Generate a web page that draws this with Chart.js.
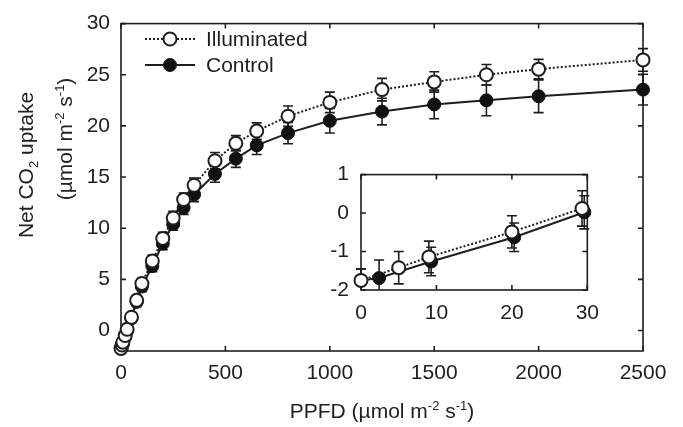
<!DOCTYPE html>
<html lang="en">
<head>
  <meta charset="UTF-8">
  <title>Net CO2 uptake vs PPFD</title>
  <script src="https://cdn.jsdelivr.net/npm/chart.js"></script>
  <style>
    body {
      margin: 0;
      background: #fff;
      font-family: "Liberation Sans", Arial, sans-serif;
      color: #222;
    }
    #wrap { position: relative; width: 683px; height: 427px; }
    #mainChart { position: absolute; left: 0; top: 0; }
    #insetChart { position: absolute; left: 310px; top: 150px; }
    .title {
      position: absolute;
      font-size: 21px;
      white-space: nowrap;
      line-height: 1;
      transform: translate(-50%, -50%);
    }
    .title.rot { transform: translate(-50%, -50%) rotate(-90deg); }
    sup, sub { font-size: 13px; line-height: 0; }
  </style>
</head>
<body>
  <div id="wrap">
    <canvas id="mainChart" width="683" height="427"></canvas>
    <canvas id="insetChart" width="300" height="180"></canvas>
    <div class="title rot" style="left:25px; top:165px;">Net CO<sub>2</sub> uptake</div>
    <div class="title rot" style="left:64px; top:139px;">(µmol m<sup>-2</sup> s<sup>-1</sup>)</div>
    <div class="title" style="left:382px; top:410px;">PPFD (µmol m<sup>-2</sup> s<sup>-1</sup>)</div>
  </div>

  <script>
    // values
    const illumPPFD   = [0, 5, 9, 20, 29.3, 50, 75, 100, 150, 200, 250, 300, 350, 450, 550, 650, 800, 1000, 1250, 1500, 1750, 2000, 2500];
    const illumUptake = [-1.75, -1.42, -1.14, -0.49, 0.12, 1.3, 2.95, 4.6, 6.8, 9.0, 11.0, 12.8, 14.2, 16.6, 18.3, 19.5, 20.95, 22.3, 23.55, 24.3, 25.0, 25.55, 26.45];
    const illumErr    = [0.3, 0.42, 0.41, 0.42, 0.46, 0.4, 0.45, 0.5, 0.55, 0.6, 0.65, 0.65, 0.7, 0.8, 0.75, 0.8, 1.0, 1.0, 1.1, 1.0, 1.0, 0.95, 1.1];

    const ctrlPPFD    = [0, 2.4, 9.3, 20.3, 29.6, 50, 75, 100, 150, 200, 250, 300, 350, 450, 550, 650, 800, 1000, 1250, 1500, 1750, 2000, 2500];
    const ctrlUptake  = [-1.75, -1.69, -1.26, -0.63, 0.02, 1.2, 2.8, 4.3, 6.3, 8.5, 10.4, 12.0, 13.3, 15.3, 16.8, 18.1, 19.3, 20.5, 21.4, 22.1, 22.5, 22.9, 23.55];
    const ctrlErr     = [0.3, 0.47, 0.37, 0.37, 0.43, 0.4, 0.45, 0.5, 0.55, 0.6, 0.6, 0.65, 0.7, 0.8, 0.85, 0.9, 1.05, 1.2, 1.3, 1.4, 1.5, 1.6, 1.5];

    const seriesNames = ['Illuminated', 'Control'];

    const mainXTicks  = [0, 500, 1000, 1500, 2000, 2500];
    const mainYTicks  = [0, 5, 10, 15, 20, 25, 30];
    const insetXTicks = [0, 10, 20, 30];
    const insetYTicks = [-2, -1, 0, 1];
    const insetCount  = 5; // the low-light points shown in the inset

    const ink = '#1e1e1e';
    const tickFont = { family: '"Liberation Sans", Arial, sans-serif', size: 21 };

    function points(xs, ys, n) {
      return xs.slice(0, n).map((x, i) => ({ x: x, y: ys[i] }));
    }

    function makeDatasets(n) {
      return [
        {
          label: seriesNames[0],
          data: points(illumPPFD, illumUptake, n),
          errors: illumErr.slice(0, n),
          borderColor: ink,
          borderWidth: 2,
          borderDash: [2, 2],
          pointRadius: 6.5,
          pointBorderWidth: 2,
          pointBackgroundColor: '#fff',
          pointBorderColor: ink,
          tension: 0,
          clip: false,
          order: 0
        },
        {
          label: seriesNames[1],
          data: points(ctrlPPFD, ctrlUptake, n),
          errors: ctrlErr.slice(0, n),
          borderColor: ink,
          borderWidth: 2,
          pointRadius: 6.5,
          pointBorderWidth: 1,
          pointBackgroundColor: '#111',
          pointBorderColor: '#111',
          tension: 0,
          clip: false,
          order: 1
        }
      ];
    }

    // box round the plot plus inward ticks on all four sides
    const frameTicks = {
      id: 'frameTicks',
      beforeDatasetsDraw(chart) {
        const { ctx, chartArea: a, scales: { x, y } } = chart;
        const len = 5;
        ctx.save();
        ctx.strokeStyle = ink;
        ctx.lineWidth = 1.6;
        ctx.strokeRect(a.left, a.top, a.right - a.left, a.bottom - a.top);
        ctx.beginPath();
        x.ticks.forEach(t => {
          const px = x.getPixelForValue(t.value);
          ctx.moveTo(px, a.bottom); ctx.lineTo(px, a.bottom - len);
          ctx.moveTo(px, a.top); ctx.lineTo(px, a.top + len);
        });
        y.ticks.forEach(t => {
          const py = y.getPixelForValue(t.value);
          ctx.moveTo(a.left, py); ctx.lineTo(a.left + len, py);
          ctx.moveTo(a.right, py); ctx.lineTo(a.right - len, py);
        });
        ctx.stroke();
        ctx.restore();
      }
    };

    // vertical error bars with caps, drawn under the markers
    const errorBars = {
      id: 'errorBars',
      beforeDatasetsDraw(chart) {
        const { ctx, chartArea: a, scales: { y } } = chart;
        ctx.save();
        ctx.beginPath();
        ctx.rect(a.left - 10, a.top, a.right - a.left + 20, a.bottom - a.top);
        ctx.clip();
        ctx.strokeStyle = ink;
        ctx.lineWidth = 1.6;
        chart.data.datasets.forEach((ds, di) => {
          const meta = chart.getDatasetMeta(di);
          ds.data.forEach((p, i) => {
            const px = meta.data[i].x;
            const top = y.getPixelForValue(p.y + ds.errors[i]);
            const bot = y.getPixelForValue(p.y - ds.errors[i]);
            ctx.beginPath();
            ctx.moveTo(px, top); ctx.lineTo(px, bot);
            ctx.moveTo(px - 5, top); ctx.lineTo(px + 5, top);
            ctx.moveTo(px - 5, bot); ctx.lineTo(px + 5, bot);
            ctx.stroke();
          });
        });
        ctx.restore();
      }
    };

    // legend: line sample with marker, then the name
    const lineLegend = {
      id: 'lineLegend',
      afterDraw(chart) {
        const ctx = chart.ctx;
        const rows = [39, 65];
        ctx.save();
        chart.data.datasets.forEach((ds, i) => {
          const yy = rows[i];
          ctx.strokeStyle = ink;
          ctx.lineWidth = 2;
          ctx.setLineDash(ds.borderDash || []);
          ctx.beginPath();
          ctx.moveTo(145, yy); ctx.lineTo(195, yy);
          ctx.stroke();
          ctx.setLineDash([]);
          ctx.beginPath();
          ctx.arc(170, yy, 6.5, 0, Math.PI * 2);
          ctx.fillStyle = ds.pointBackgroundColor;
          ctx.fill();
          ctx.lineWidth = ds.pointBorderWidth;
          ctx.strokeStyle = ds.pointBorderColor;
          ctx.stroke();
          ctx.fillStyle = ink;
          ctx.font = '21px "Liberation Sans", Arial, sans-serif';
          ctx.textBaseline = 'middle';
          ctx.fillText(ds.label, 206, yy + 1);
        });
        ctx.restore();
      }
    };

    function axis(min, max, tickValues, size, pad, isX) {
      return {
        type: 'linear',
        min: min,
        max: max,
        grid: { display: false, drawTicks: false },
        border: { display: false },
        afterBuildTicks: s => { s.ticks = tickValues.map(v => ({ value: v })); },
        afterFit: s => { if (isX) { s.height = size; } else { s.width = size; } },
        ticks: {
          font: tickFont,
          color: ink,
          padding: pad,
          maxRotation: 0,
          autoSkip: false,
          callback: v => String(v)
        }
      };
    }

    new Chart(document.getElementById('mainChart'), {
      type: 'line',
      data: { datasets: makeDatasets(illumPPFD.length) },
      options: {
        responsive: false,
        animation: false,
        layout: { padding: { left: 0, right: 40, top: 15, bottom: 0 } },
        plugins: { legend: { display: false }, tooltip: { enabled: false } },
        scales: {
          x: axis(0, 2500, mainXTicks, 76, 10, true),
          y: axis(-2, 30, mainYTicks, 121, 11, false)
        }
      },
      plugins: [frameTicks, errorBars, lineLegend]
    });

    new Chart(document.getElementById('insetChart'), {
      type: 'line',
      data: { datasets: makeDatasets(insetCount) },
      options: {
        responsive: false,
        animation: false,
        layout: { padding: { left: 0, right: 19, top: 17, bottom: 0 } },
        plugins: { legend: { display: false }, tooltip: { enabled: false } },
        scales: {
          x: axis(0, 30, insetXTicks, 40, 11, true),
          y: axis(-2, 1, insetYTicks, 51, 12, false)
        }
      },
      plugins: [frameTicks, errorBars]
    });
  </script>
</body>
</html>
